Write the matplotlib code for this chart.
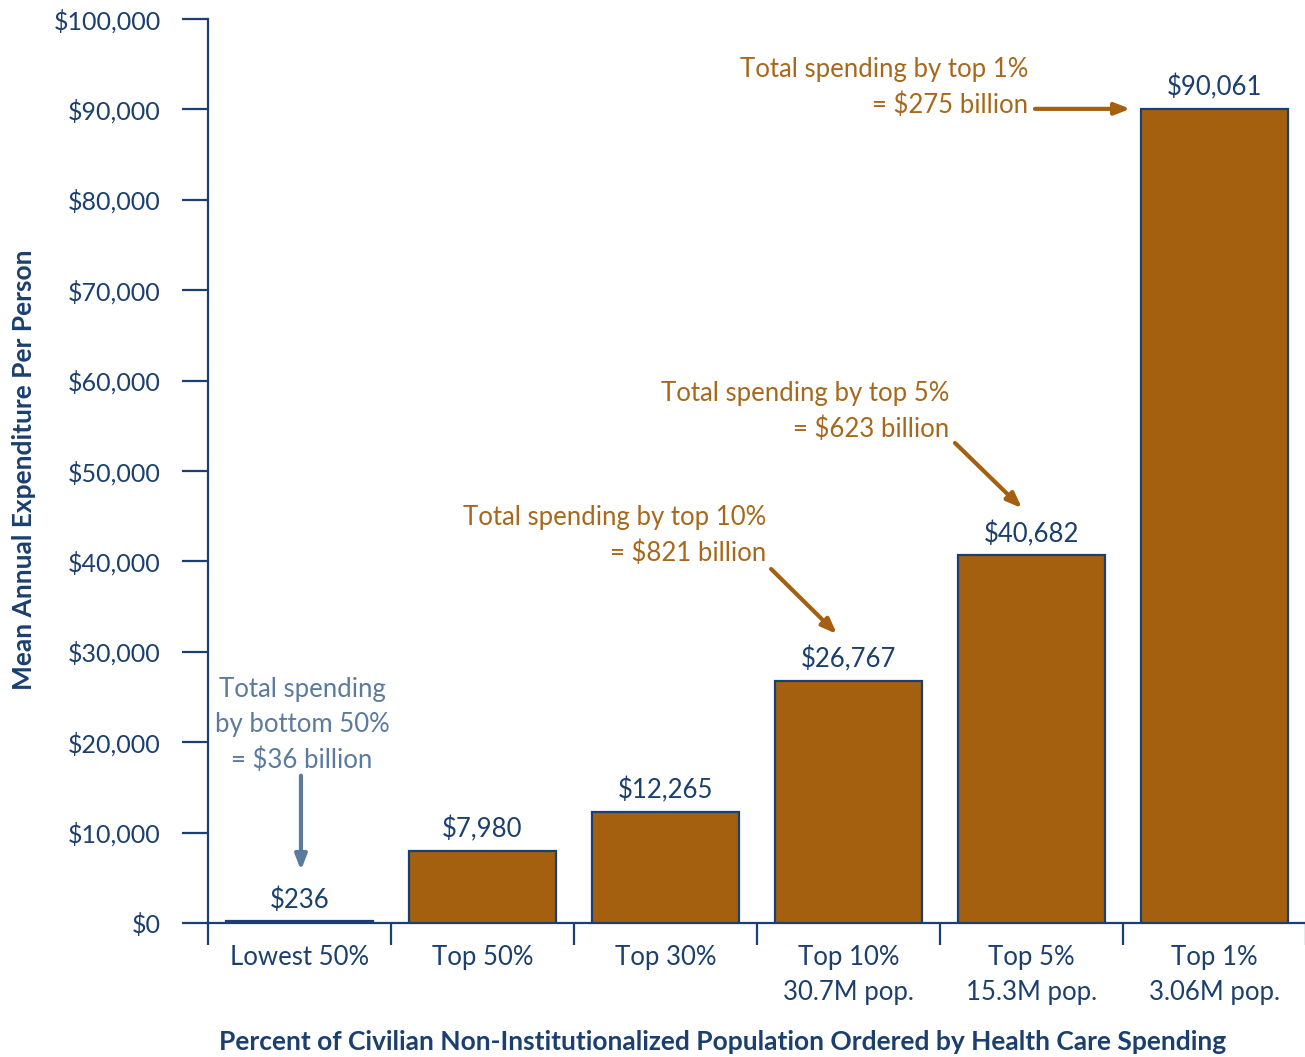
import matplotlib
matplotlib.use("Agg")
import matplotlib.pyplot as plt
from matplotlib.ticker import FuncFormatter, FixedLocator

# ---- data ----
categories = ["Lowest 50%", "Top 50%", "Top 30%", "Top 10%\n30.7M pop.", "Top 5%\n15.3M pop.", "Top 1%\n3.06M pop."]
values = [236, 7980, 12265, 26767, 40682, 90061]
value_labels = ["$236", "$7,980", "$12,265", "$26,767", "$40,682", "$90,061"]
annot_texts = ["Total spending\nby bottom 50%\n= $36 billion",
               "Total spending by top 10%\n= $821 billion",
               "Total spending by top 5%\n= $623 billion",
               "Total spending by top 1%\n= $275 billion"]
y_ticks = list(range(0, 100001, 10000))

NAVY = "#1B3F6E"
BROWN = "#A5600F"
BROWN_TXT = "#A8681C"
SLATE = "#5A7B9E"
FS = 18.5
LS = 1.5

plt.rcParams['font.family'] = ['Lato', 'DejaVu Sans']

fig = plt.figure(figsize=(13.05, 10.57), dpi=100)
ax = fig.add_axes([208/1305, 134/1057, 1098/1305, 904/1057])

x = list(range(len(categories)))
bars = ax.bar(x, values, width=0.80, color=BROWN, edgecolor=NAVY, linewidth=1.6, zorder=3)

ax.set_xlim(-0.5, 5.5)
ax.set_ylim(0, 100000)

for spine in ["top", "right"]:
    ax.spines[spine].set_visible(False)
for spine in ["left", "bottom"]:
    ax.spines[spine].set_color(NAVY)
    ax.spines[spine].set_linewidth(1.6)

ax.yaxis.set_major_locator(FixedLocator(y_ticks))
ax.yaxis.set_major_formatter(FuncFormatter(lambda v, p: "${:,.0f}".format(v)))
ax.tick_params(axis="y", direction="out", length=19, width=1.6, color=NAVY,
               labelcolor=NAVY, labelsize=18, pad=15)

ax.set_xticks(x)
ax.set_xticklabels(categories, linespacing=LS)
ax.set_xticks([i - 0.5 for i in range(len(categories) + 1)], minor=True)
ax.tick_params(axis="x", which="major", length=0, pad=16, labelcolor=NAVY, labelsize=FS)
ax.tick_params(axis="x", which="minor", length=16, width=1.6, color=NAVY, direction="out")

# value labels
for xi, v, lab in zip(x, values, value_labels):
    ax.annotate(lab, xy=(xi, v), xytext=(0, 6), textcoords="offset points",
                ha="center", va="bottom", color=NAVY, fontsize=FS)

# annotations
arrow_b = dict(arrowstyle="-|>,head_length=0.9,head_width=0.35", color=BROWN, lw=3, shrinkA=0, shrinkB=0)
arrow_s = dict(arrowstyle="-|>,head_length=0.9,head_width=0.35", color=SLATE, lw=3, shrinkA=0, shrinkB=0)

# bottom 50%
ax.text(0.014, 21900, annot_texts[0], ha="center", va="center", multialignment="center",
        color=SLATE, fontsize=FS, linespacing=LS)
ax.annotate("", xy=(0.008, values[0] + 5600), xytext=(0.008, 16300), arrowprops=arrow_s)

# top 10%
ax.text(2.549, 42900, annot_texts[1], ha="right", va="center", multialignment="right",
        color=BROWN_TXT, fontsize=FS, linespacing=LS)
ax.annotate("", xy=(2.937, values[3] + 5200), xytext=(2.577, 39160), arrowprops=arrow_b)

# top 5%
ax.text(3.549, 56600, annot_texts[2], ha="right", va="center", multialignment="right",
        color=BROWN_TXT, fontsize=FS, linespacing=LS)
ax.annotate("", xy=(3.948, values[4] + 5200), xytext=(3.582, 53100), arrowprops=arrow_b)

# top 1%
ax.text(3.981, 92400, annot_texts[3], ha="right", va="center", multialignment="right",
        color=BROWN_TXT, fontsize=FS, linespacing=LS)
ax.annotate("", xy=(4.54, values[5]), xytext=(4.019, values[5]), arrowprops=arrow_b)

fig.text(723/1305, 1 - 1042/1057,
         "Percent of Civilian Non-Institutionalized Population Ordered by Health Care Spending",
         ha="center", va="center", color=NAVY, fontsize=19, fontweight="bold")
fig.text(24/1305, 1 - 470/1057, "Mean Annual Expenditure Per Person", rotation=90,
         ha="center", va="center", color=NAVY, fontsize=19, fontweight="bold")

fig.savefig("out.png", dpi=100, facecolor="white")
